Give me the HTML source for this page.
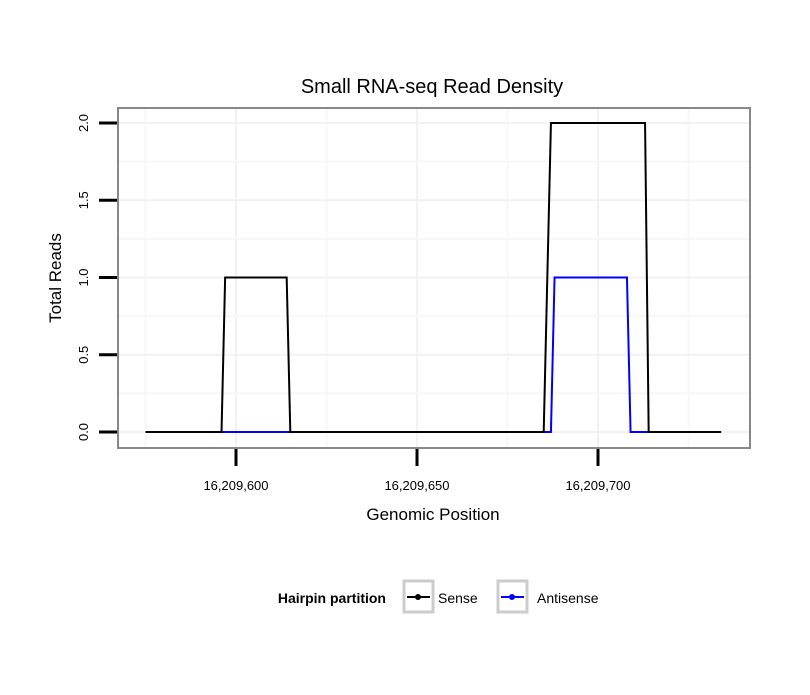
<!DOCTYPE html>
<html><head><meta charset="utf-8"><style>
body{margin:0;background:#fff;}
svg text{font-family:"Liberation Sans",sans-serif;}
</style></head><body>
<svg width="810" height="690" xmlns="http://www.w3.org/2000/svg">
<rect width="810" height="690" fill="#fff"/>
<text x="432" y="93" font-size="20" text-anchor="middle">Small RNA-seq Read Density</text>
<g id="grid"></g>
<g id="series"></g>
<rect x="118" y="108" width="632" height="340" fill="none" stroke="#888" stroke-width="2"/>
<g id="axes"></g>
<text x="433" y="520" font-size="17" text-anchor="middle">Genomic Position</text>
<text transform="translate(61,278) rotate(-90)" font-size="17" text-anchor="middle">Total Reads</text>
<g>
<text x="386" y="603" font-size="14" font-weight="bold" text-anchor="end">Hairpin partition</text>
<g>
<rect x="404" y="581" width="29" height="31" fill="#fff" stroke="#ccc" stroke-width="3"/>
<line x1="407" y1="597" x2="430" y2="597" stroke="#000" stroke-width="2"/><circle cx="418" cy="597" r="3" fill="#000"/>
<text x="438" y="603" font-size="14">Sense</text></g>
<g>
<rect x="498" y="581" width="29" height="31" fill="#fff" stroke="#ccc" stroke-width="3"/>
<line x1="501" y1="597" x2="524" y2="597" stroke="#00f" stroke-width="2"/><circle cx="512" cy="597" r="3" fill="#00f"/>
<text x="537" y="603" font-size="14">Antisense</text></g>
</g>
</svg>
<script>
const xTicks=[16209600,16209650,16209700];
const xTickLabels=["16,209,600","16,209,650","16,209,700"];
const yTicks=[0,0.5,1,1.5,2];
const yTickLabels=["0.0","0.5","1.0","1.5","2.0"];
const senseX=[16209575,16209596,16209597,16209614,16209615,16209685,16209687,16209713,16209714,16209734];
const senseY=[0,0,1,1,0,0,2,2,0,0];
const antiX=[16209575,16209687,16209688,16209708,16209709,16209734];
const antiY=[0,0,1,1,0,0];
const NS="http://www.w3.org/2000/svg";
function sx(v){return 236+(v-16209600)*181/50;}
function sy(v){return 432-v*154.5;}
function mk(t,a,p){const e=document.createElementNS(NS,t);for(const k in a)e.setAttribute(k,a[k]);p.appendChild(e);return e;}
const grid=document.getElementById('grid'),axes=document.getElementById('axes'),ser=document.getElementById('series');
for(let i=0;i<xTicks.length;i++){
 const x=sx(xTicks[i]);
 const g=mk('line',{x1:x,x2:x,y1:109,y2:447,stroke:'#f2f2f2','stroke-width':2},grid);
 
 
 const t=mk('line',{x1:x,x2:x,y1:449,y2:466,stroke:'#000','stroke-width':3},axes);
 
 
 const l=mk('text',{x:x,y:490,'font-size':13,'text-anchor':'middle'},axes);l.textContent=xTickLabels[i];
 
 
}
for(let i=0;i<xTicks.length+1;i++){
 const v=xTicks[0]-25+i*50;const x=sx(v);
 const g=mk('line',{x1:x,x2:x,y1:109,y2:447,stroke:'#f7f7f7','stroke-width':2},grid);
 
 
}
for(let i=0;i<yTicks.length;i++){
 const y=sy(yTicks[i]);
 const g=mk('line',{x1:119,x2:749,y1:y,y2:y,stroke:'#f2f2f2','stroke-width':2},grid);
 
 
 if(i<yTicks.length-1){const ym=sy(yTicks[i]+0.25);
 const m=mk('line',{x1:119,x2:749,y1:ym,y2:ym,stroke:'#f7f7f7','stroke-width':2},grid);
 
 }
 const t=mk('line',{x1:99,x2:117,y1:y,y2:y,stroke:'#000','stroke-width':3},axes);
 
 
 const l=mk('text',{transform:`translate(88,${y}) rotate(-90)`,'font-size':13,'text-anchor':'middle'},axes);l.textContent=yTickLabels[i];
 
 
}
function path(xs,ys){return xs.map((v,i)=>(i?'L':'M')+sx(v)+','+sy(ys[i])).join(' ');}
const a=mk('path',{d:path(antiX,antiY),fill:'none',stroke:'#00f','stroke-width':2},ser);


const s=mk('path',{d:path(senseX,senseY),fill:'none',stroke:'#000','stroke-width':2},ser);


</script>
</body></html>
